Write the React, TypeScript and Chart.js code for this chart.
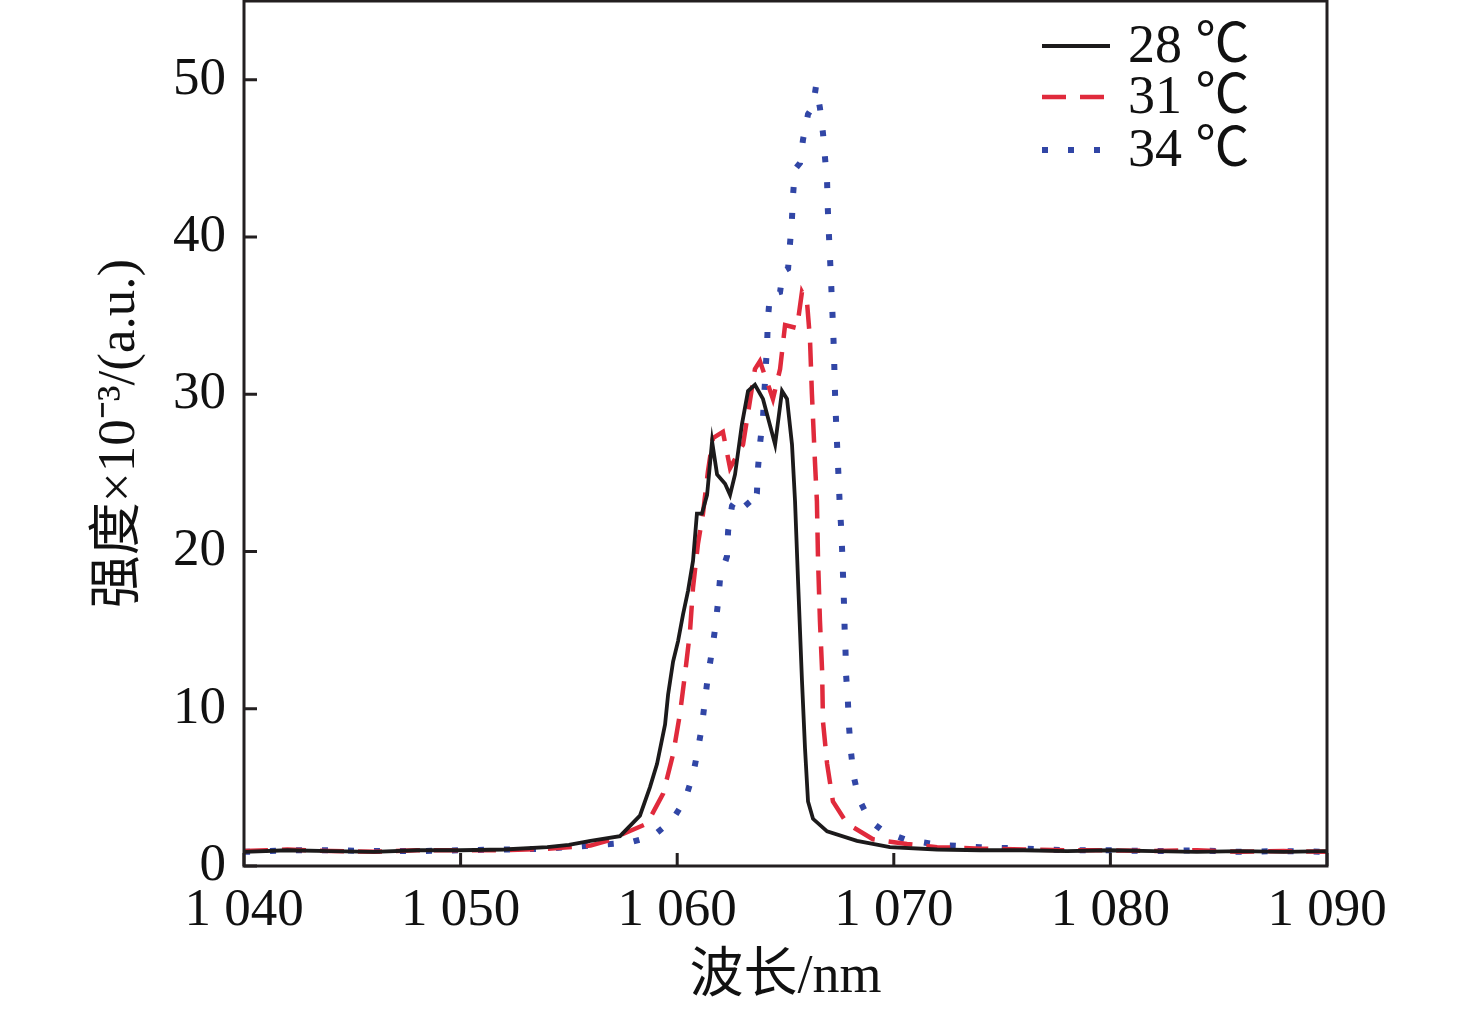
import { useEffect, useRef } from "react";
import { Chart, registerables } from "chart.js";

Chart.register(...registerables);

// wavelength (nm) / intensity (x10^-3 a.u.)
const wl28 = [
  1040, 1042, 1044, 1046, 1048, 1050, 1052, 1054, 1055, 1056, 1057.36, 1058.28, 1058.74, 1059.07,
  1059.44, 1059.58, 1059.81, 1060.04, 1060.27, 1060.5, 1060.73, 1060.91, 1061.14, 1061.38, 1061.61,
  1061.84, 1062.21, 1062.44, 1062.67, 1062.99, 1063.27, 1063.59, 1063.96, 1064.52, 1064.84, 1065.07,
  1065.3, 1065.44, 1065.58, 1065.76, 1065.9, 1066.04, 1066.27, 1066.92, 1068.3, 1069.82, 1072, 1074,
  1076, 1078, 1080, 1082, 1084, 1086, 1088, 1090,
];
const int28 = [
  0.9, 1.0, 0.95, 0.9, 1.0, 1.0, 1.05, 1.2, 1.35, 1.6, 1.9, 3.2, 5.0, 6.5, 9.0, 10.9, 13.0, 14.3, 16.0,
  17.5, 19.4, 22.4, 22.4, 23.6, 27.0, 24.9, 24.3, 23.6, 24.9, 28.1, 30.2, 30.6, 29.7, 26.8, 30.2, 29.7,
  26.8, 23.2, 18.1, 11.8, 7.5, 4.1, 3.0, 2.2, 1.6, 1.2, 1.05, 1.0, 1.0, 0.95, 1.0, 0.95, 0.9, 0.95, 0.9,
  0.95,
];

const wl31 = [
  1040, 1042, 1044, 1046, 1048, 1050, 1052, 1054, 1056, 1056.76, 1058.61, 1059.35, 1059.81, 1060.13,
  1060.36, 1060.59, 1060.73, 1060.96, 1061.19, 1061.42, 1061.65, 1062.11, 1062.44, 1063.04, 1063.59,
  1063.82, 1064.42, 1064.75, 1064.98, 1065.53, 1065.76, 1065.99, 1066.13, 1066.22, 1066.36, 1066.45,
  1066.5, 1066.59, 1066.69, 1066.73, 1066.92, 1067.19, 1067.84, 1069.04, 1070.61, 1072, 1074, 1076,
  1078, 1080, 1082, 1084, 1086, 1088, 1090,
];
const int31 = [
  0.95, 1.05, 0.95, 0.9, 1.0, 1.0, 1.0, 1.1, 1.3, 1.6, 2.7, 4.6, 7.1, 9.7, 12.2, 14.9, 17.7, 20.5, 22.4,
  25.1, 27.2, 27.6, 25.3, 26.8, 31.6, 32.1, 29.7, 31.6, 34.4, 34.2, 36.5, 35.9, 33.5, 30.0, 25.7, 23.2,
  19.6, 15.6, 12.4, 9.2, 6.5, 4.1, 2.7, 1.7, 1.4, 1.2, 1.1, 1.05, 1.0, 1.0, 0.95, 1.0, 0.9, 0.95, 0.9,
];

const wl34 = [
  1040, 1042, 1044, 1046, 1048, 1050, 1052, 1054, 1055.97, 1057.82, 1058.88, 1059.76, 1060.36, 1060.73,
  1060.96, 1061.14, 1061.28, 1061.42, 1061.61, 1061.75, 1061.88, 1061.98, 1062.3, 1062.35, 1062.53,
  1062.9, 1063.45, 1063.68, 1063.73, 1063.82, 1063.96, 1064.15, 1064.19, 1064.28, 1064.75, 1064.88,
  1065.12, 1065.21, 1065.3, 1065.35, 1065.44, 1065.67, 1065.81, 1066.04, 1066.27, 1066.41, 1066.59,
  1066.73, 1066.82, 1066.92, 1066.95, 1067.0, 1067.05, 1067.1, 1067.15, 1067.2, 1067.24, 1067.27,
  1067.3, 1067.35, 1067.4, 1067.45, 1067.5, 1067.57, 1067.62, 1067.66, 1067.7, 1067.73, 1067.77, 1067.8,
  1067.88, 1067.93, 1068.02, 1068.15, 1068.38, 1068.88, 1069.53, 1070.5, 1072, 1074, 1076, 1078, 1080,
  1082, 1084, 1086, 1088, 1090,
];
const int34 = [
  0.9, 1.0, 1.0, 0.95, 0.95, 1.0, 1.05, 1.1, 1.3, 1.5, 1.9, 2.9, 4.2, 5.8, 7.4, 8.9, 10.5, 12.1, 13.7,
  15.1, 16.7, 18.3, 19.7, 21.3, 22.9, 23.6, 22.7, 23.7, 25.3, 26.8, 28.5, 33.2, 34.8, 36.3, 36.5, 37.8,
  38.0, 39.6, 41.2, 42.7, 44.3, 44.7, 46.2, 47.8, 48.3, 49.6, 48.2, 46.6, 45.1, 43.5, 41.9, 40.3, 38.8,
  37.3, 35.7, 34.1, 32.5, 30.9, 29.4, 27.8, 26.2, 24.7, 23.1, 21.5, 19.9, 18.3, 16.7, 15.1, 13.7, 12.1,
  10.5, 8.9, 7.3, 5.7, 4.3, 2.9, 2.2, 1.7, 1.35, 1.2, 1.1, 1.0, 1.0, 0.95, 1.0, 0.9, 0.95, 0.9,
];

const seriesLabels = ["28 ℃", "31 ℃", "34 ℃"];
const xTicks = [1040, 1050, 1060, 1070, 1080, 1090];
const xTickLabels = ["1 040", "1 050", "1 060", "1 070", "1 080", "1 090"];
const yTicks = [0, 10, 20, 30, 40, 50];

const colors = ["#1c1a1b", "#e02a3c", "#3146a6"];
const widths = [3.8, 4.5, 6];
const dashes: number[][] = [[], [24, 14], [6, 20]];

const serif = "'Liberation Serif', 'Times New Roman', 'Noto Sans CJK SC', serif";
const ink = "#231f20";

const toPoints = (xs: number[], ys: number[]) => xs.map((x, i) => ({ x, y: ys[i] }));

const framePlugin = {
  id: "frame",
  afterDraw(chart: Chart) {
    const { ctx, chartArea: a } = chart;
    const sx = chart.scales.x;
    const sy = chart.scales.y;
    ctx.save();
    ctx.strokeStyle = ink;
    ctx.lineWidth = 3;
    ctx.setLineDash([]);
    ctx.strokeRect(a.left, a.top, a.right - a.left, a.bottom - a.top);
    // inward tick marks
    ctx.beginPath();
    sx.ticks.forEach((t) => {
      const px = sx.getPixelForValue(t.value);
      ctx.moveTo(px, a.bottom);
      ctx.lineTo(px, a.bottom - 13);
    });
    sy.ticks.forEach((t) => {
      const py = sy.getPixelForValue(t.value);
      ctx.moveTo(a.left, py);
      ctx.lineTo(a.left + 13, py);
    });
    ctx.stroke();

    // legend, top right inside the frame
    const lx = a.right - 285;
    const rows = [46, 97, 150];
    ctx.font = `54px ${serif}`;
    ctx.textBaseline = "middle";
    ctx.fillStyle = "#111";
    chart.data.datasets.forEach((ds: any, i: number) => {
      const y = rows[i];
      ctx.beginPath();
      ctx.strokeStyle = ds.borderColor;
      ctx.lineWidth = ds.borderWidth;
      ctx.setLineDash(ds.borderDash || []);
      ctx.moveTo(lx, y);
      ctx.lineTo(lx + 68, y);
      ctx.stroke();
      ctx.setLineDash([]);
      ctx.fillText(ds.label, lx + 86, y + 2);
    });
    ctx.restore();
  },
};

export default function App() {
  const canvasRef = useRef<HTMLCanvasElement>(null);
  const chartRef = useRef<Chart | null>(null);

  useEffect(() => {
    if (!canvasRef.current) return;
    if (chartRef.current) chartRef.current.destroy();

    const series = [toPoints(wl28, int28), toPoints(wl31, int31), toPoints(wl34, int34)];

    chartRef.current = new Chart(canvasRef.current, {
      type: "line",
      data: {
        datasets: series.map((data, i) => ({
          label: seriesLabels[i],
          data,
          borderColor: colors[i],
          borderWidth: widths[i],
          borderDash: dashes[i],
          pointRadius: 0,
          tension: 0,
          fill: false,
        })),
      },
      options: {
        animation: false,
        responsive: true,
        maintainAspectRatio: false,
        layout: { padding: { left: 0, right: 149, top: 1, bottom: 0 } },
        plugins: { legend: { display: false }, tooltip: { enabled: false } },
        scales: {
          x: {
            type: "linear",
            min: 1040,
            max: 1090,
            grid: { display: false, drawTicks: false },
            border: { display: false },
            afterBuildTicks: (s: any) => {
              s.ticks = xTicks.map((value) => ({ value }));
            },
            afterFit: (s: any) => {
              s.height = 148;
              s.paddingLeft = 0;
              s.paddingRight = 0;
            },
            ticks: {
              padding: 13,
              color: "#111",
              maxRotation: 0,
              font: { family: serif, size: 53 },
              callback: (_v: any, i: number) => xTickLabels[i],
            },
            title: {
              display: true,
              text: "波长/nm",
              color: "#111",
              font: { family: serif, size: 54 },
              padding: { top: 0, bottom: 4 },
            },
          },
          y: {
            type: "linear",
            min: 0,
            max: 55,
            grid: { display: false, drawTicks: false },
            border: { display: false },
            afterBuildTicks: (s: any) => {
              s.ticks = yTicks.map((value) => ({ value }));
            },
            afterFit: (s: any) => {
              s.width = 244;
              s.paddingTop = 0;
              s.paddingBottom = 0;
            },
            ticks: {
              padding: 18,
              color: "#111",
              font: { family: serif, size: 53 },
            },
            title: {
              display: true,
              text: "强度×10⁻³/(a.u.)",
              color: "#111",
              font: { family: serif, size: 53 },
              padding: { top: 88, bottom: 0 },
            },
          },
        },
      },
      plugins: [framePlugin],
    });

    return () => {
      if (chartRef.current) {
        chartRef.current.destroy();
        chartRef.current = null;
      }
    };
  }, []);

  return (
    <div
      style={{ position: "absolute", left: 0, top: 0, width: 1476, height: 1014, background: "#fff" }}
    >
      <canvas ref={canvasRef} />
    </div>
  );
}
